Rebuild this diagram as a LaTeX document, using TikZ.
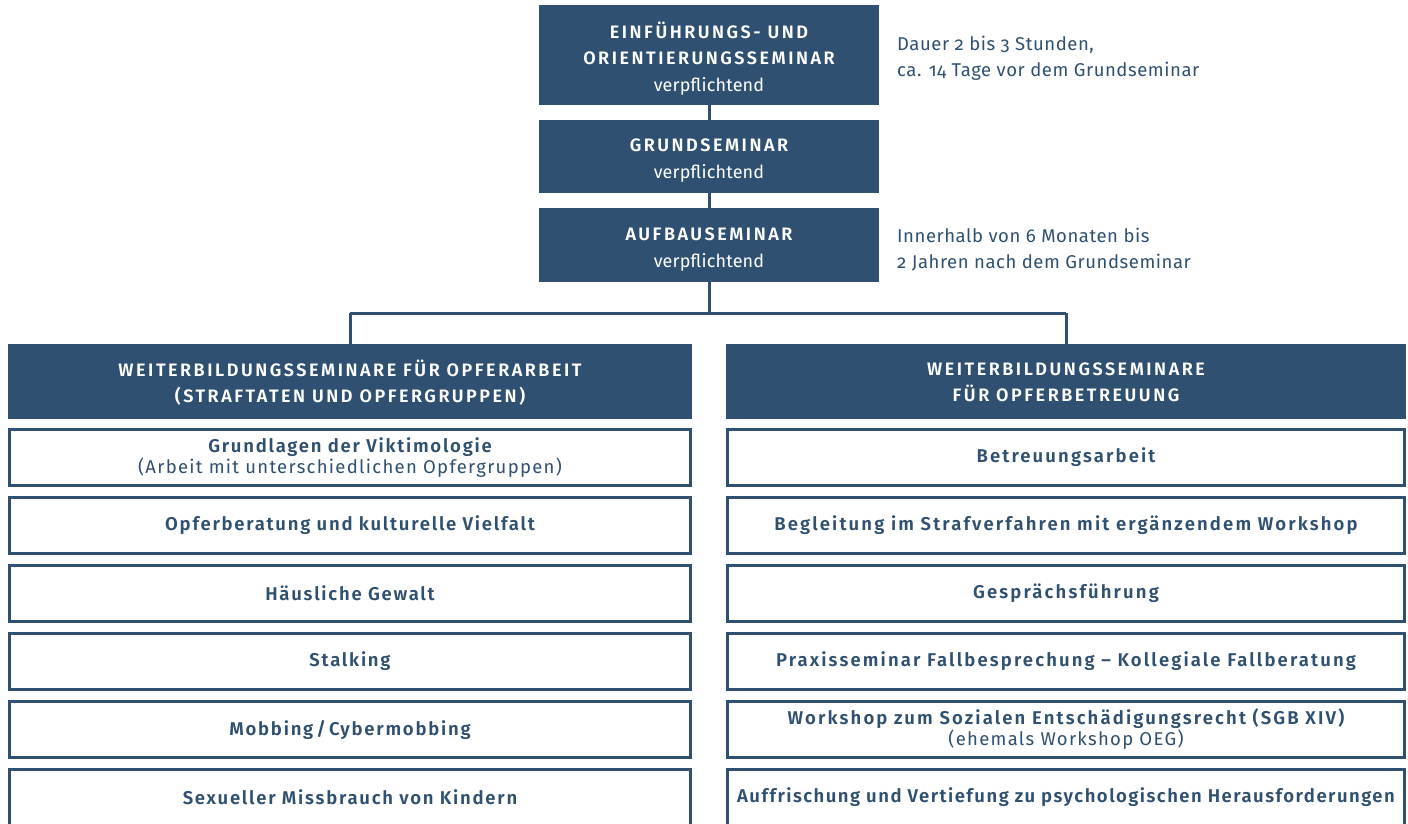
\documentclass[tikz,border=0pt]{standalone}
\usepackage{fontspec}
\setmainfont{Fira Sans}[BoldFont={Fira Sans SemiBold}]
\newfontfamily\bfs{Fira Sans SemiBold}[LetterSpace=9.5]
\newfontfamily\bfr{Fira Sans SemiBold}[LetterSpace=11.5]
\newfontfamily\bfsn{Fira Sans SemiBold}[LetterSpace=8]
\newfontfamily\hfs{Fira Sans SemiBold}[LetterSpace=14]
\newfontfamily\rfs{Fira Sans}[LetterSpace=7]
\newfontfamily\vfs{Fira Sans}[LetterSpace=1]
\newfontfamily\afs{Fira Sans}[Numbers=OldStyle,LetterSpace=3]
\definecolor{navy}{RGB}{47,80,112}
\begin{document}
\begin{tikzpicture}[x=1pt,y=-1pt,
  darkbox/.style={fill=navy,draw=none,inner sep=0pt},
  boxtext/.style={text=white,align=center,inner sep=0pt,font=\fontsize{18}{26.5}\selectfont},
  itembox/.style={draw=navy,line width=3pt,fill=white,text=navy,align=center,inner sep=0pt,
     minimum width=681pt,minimum height=56pt,font=\fontsize{18.5}{21}\selectfont},
  conn/.style={draw=navy,line width=3pt},
  note/.style={text=navy,anchor=west,align=left,inner sep=0pt,font=\afs\fontsize{18.5}{26}\selectfont}]
\useasboundingbox (0,0) rectangle (1408,823);
\clip (0,0) rectangle (1408,823);
% junction points
\coordinate (jl) at (350,313);
\coordinate (jr) at (1066,313);
\coordinate (jm) at (709,313);
% top boxes
\node[darkbox,minimum width=340pt,minimum height=100pt] (b1) at (709,55) {};
\node[boxtext] (t1) at ([yshift=-3.5pt]b1.center)
  {{\hfs EINFÜHRUNGS- UND}\\{\hfs ORIENTIERUNGSSEMINAR}\\{\vfs verpflichtend}};
\node[darkbox,minimum width=340pt,minimum height=73pt] (b2) at (709,156.5) {};
\node[boxtext] (t2) at ([yshift=-4pt]b2.center)
  {{\hfs GRUNDSEMINAR}\\{\vfs verpflichtend}};
\node[darkbox,minimum width=340pt,minimum height=74pt] (b3) at (709,245) {};
\node[boxtext] (t3) at ([yshift=-4.5pt]b3.center)
  {{\hfs AUFBAUSEMINAR}\\{\vfs verpflichtend}};
\draw[conn] (b1.south) -- (b2.north);
\draw[conn] (b2.south) -- (b3.north);
\draw[conn] (b3.south) -- (jm);
% headers
\node[darkbox,minimum width=684pt,minimum height=75pt] (hl) at (350,381.5) {};
\node[boxtext] (thl) at ([yshift=-1pt]hl.center)
  {{\hfs WEITERBILDUNGSSEMINARE FÜR OPFERARBEIT}\\{\hfs (STRAFTATEN UND OPFERGRUPPEN)}};
\node[darkbox,minimum width=680pt,minimum height=75pt] (hr) at (1066,381.5) {};
\node[boxtext] (thr) at ([yshift=-1pt]hr.center)
  {{\hfs WEITERBILDUNGSSEMINARE}\\{\hfs FÜR OPFERBETREUUNG}};
\draw[conn] (jl) -- (jr);
\draw[conn] (jl) -- (hl.north);
\draw[conn] (jr) -- (hr.north);
% notes
\node[note] (n1) at (897,58) {Dauer 2 bis 3 Stunden,\\ca. 14 Tage vor dem Grundseminar};
\node[note] (n3) at (897,250) {Innerhalb von 6 Monaten bis\\2 Jahren nach dem Grundseminar};
% left items
\node[itembox] (l1) at (350,457.5) {{\bfs Grundlagen der Viktimologie}\\{\rfs (Arbeit mit unterschiedlichen Opfergruppen)}};
\node[itembox] (l2) at (350,525.5) {\bfs Opferberatung und kulturelle Vielfalt};
\node[itembox] (l3) at (350,593.5) {\bfs Häusliche Gewalt};
\node[itembox] (l4) at (350,661.5) {\bfs Stalking};
\node[itembox] (l5) at (350,729.5) {\bfs Mobbing\,/\,Cybermobbing};
\node[itembox] (l6) at (350,797.5) {\bfs Sexueller Missbrauch von Kindern};
% right items
\node[itembox,minimum width=677pt] (r1) at (1066,457.5) {\bfr Betreuungsarbeit};
\node[itembox,minimum width=677pt] (r2) at (1066,525.5) {\bfr Begleitung im Strafverfahren mit ergänzendem Workshop};
\node[itembox,minimum width=677pt] (r3) at (1066,593.5) {\bfr Gesprächsführung};
\node[itembox,minimum width=677pt] (r4) at (1066,661.5) {\bfr Praxisseminar Fallbesprechung – Kollegiale Fallberatung};
\node[itembox,minimum width=677pt] (r5) at (1066,729.5) {{\bfr Workshop zum Sozialen Entschädigungsrecht (SGB XIV)}\\{\rfs (ehemals Workshop OEG)}};
\node[itembox,minimum width=677pt] (r6) at (1066,797.5) {\bfsn Auffrischung und Vertiefung zu psychologischen Herausforderungen};
\end{tikzpicture}
\end{document}
